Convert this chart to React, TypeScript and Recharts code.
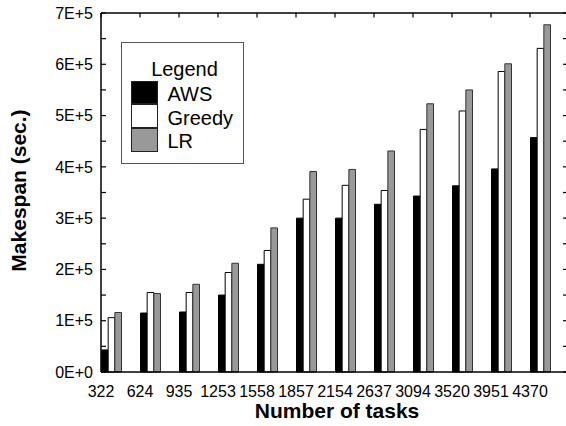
import { Bar, BarChart, Legend, ReferenceLine, XAxis, YAxis } from 'recharts';

const CATEGORIES = ['322', '624', '935', '1253', '1558', '1857', '2154', '2637', '3094', '3520', '3951', '4370'];
const AWS = [43000, 115000, 117000, 150000, 210000, 300000, 300000, 327000, 343000, 363000, 396000, 457000];
const GREEDY = [106000, 155000, 155000, 194000, 237000, 337000, 364000, 354000, 473000, 509000, 586000, 631000];
const LR = [116000, 153000, 171000, 212000, 281000, 391000, 395000, 431000, 523000, 550000, 601000, 677000];
const Y_TICKS = [0, 50000, 100000, 150000, 200000, 250000, 300000, 350000, 400000, 450000, 500000, 550000, 600000, 650000, 700000];
const Y_TICK_LABELS = ['0E+0', '', '1E+5', '', '2E+5', '', '3E+5', '', '4E+5', '', '5E+5', '', '6E+5', '', '7E+5'];

const FONT = '"Liberation Sans", Arial, Helvetica, sans-serif';
const W = 568;
const H = 426;
const PLOT_LEFT = 101;
const PLOT_TOP = 13;
const PLOT_BOTTOM = 372;
const PLOT_RIGHT = W - 1;
const BAR_W = 20 / 3;
const GROUP_HALF = (3 * BAR_W) / 2;

const rows = CATEGORIES.map((tasks, i) => ({ tasks, AWS: AWS[i], Greedy: GREEDY[i], LR: LR[i] }));

function YTick(props: any) {
  const { x, y, payload } = props;
  const label = Y_TICK_LABELS[Y_TICKS.indexOf(payload.value)];
  return (
    <g>
      <line x1={PLOT_LEFT} x2={PLOT_LEFT + 5} y1={y} y2={y} stroke="#000" strokeWidth={1.2} />
      <line x1={PLOT_RIGHT - 4} x2={PLOT_RIGHT} y1={y} y2={y} stroke="#000" strokeWidth={1.2} />
      {label ? (
        <text x={x} y={y + 5.7} textAnchor="end" fontSize={16} fill="#000" fontFamily={FONT}>
          {label}
        </text>
      ) : null}
    </g>
  );
}

function XTick(props: any) {
  const { x, payload } = props;
  const cx = x - GROUP_HALF;
  return (
    <g>
      <line x1={cx} x2={cx} y1={PLOT_TOP} y2={PLOT_TOP + 4.5} stroke="#000" strokeWidth={1.2} />
      <text x={cx} y={PLOT_BOTTOM + 25} textAnchor="middle" fontSize={16} fill="#000" fontFamily={FONT}>
        {payload.value}
      </text>
    </g>
  );
}

function XTitle(props: any) {
  const vb = props.viewBox ?? { x: PLOT_LEFT, width: PLOT_RIGHT - PLOT_LEFT };
  return (
    <text
      x={vb.x + vb.width / 2 + 3}
      y={418}
      textAnchor="middle"
      fontSize={21}
      fontWeight="bold"
      fill="#000"
      fontFamily={FONT}
    >
      Number of tasks
    </text>
  );
}

function YTitle(props: any) {
  const vb = props.viewBox ?? { y: PLOT_TOP, height: PLOT_BOTTOM - PLOT_TOP };
  const cx = 18;
  const cy = vb.y + vb.height / 2 - 2;
  return (
    <text
      transform={`translate(${cx},${cy}) rotate(-90)`}
      x={0}
      y={7.5}
      textAnchor="middle"
      fontSize={21}
      fontWeight="bold"
      fill="#000"
      fontFamily={FONT}
    >
      Makespan (sec.)
    </text>
  );
}

function LegendBox(props: any) {
  const items = props.payload ?? [];
  return (
    <div
      style={{
        position: 'relative',
        boxSizing: 'border-box',
        width: 123,
        height: 122,
        border: '1.5px solid #555',
        background: '#fff',
        fontFamily: FONT,
        fontSize: 20,
        lineHeight: '20px',
        color: '#000',
      }}
    >
      <div style={{ position: 'absolute', left: 0, right: 0, top: 16, textAlign: 'center', paddingLeft: 4 }}>Legend</div>
      {items.map((it: any, i: number) => (
        <div key={it.value}>
          <div
            style={{
              position: 'absolute',
              left: 9,
              top: 37.5 + i * 23.7,
              width: 27,
              height: 23.7,
              boxSizing: 'border-box',
              background: it.color,
              border: '1.5px solid #222',
            }}
          />
          <div style={{ position: 'absolute', left: 45.5, top: 41 + i * 23.7 }}>{it.value}</div>
        </div>
      ))}
    </div>
  );
}

export default function App() {
  return (
    <div style={{ position: 'absolute', left: 0, top: 0, width: 566, height: 426, overflow: 'hidden', background: '#fff' }}>
      <BarChart
        width={W}
        height={H}
        data={rows}
        margin={{ top: PLOT_TOP, right: 1, bottom: 0, left: 0 }}
        barGap={0}
        barSize={BAR_W}
      >
        <XAxis
          dataKey="tasks"
          height={H - PLOT_BOTTOM}
          padding={{ left: -9.5, right: 7.5 }}
          interval={0}
          tickSize={0}
          tickLine={false}
          axisLine={{ stroke: '#000', strokeWidth: 1.5 }}
          tick={<XTick />}
          label={<XTitle />}
        />
        <YAxis
          width={PLOT_LEFT}
          domain={[0, 700000]}
          ticks={Y_TICKS}
          interval={0}
          tickSize={0}
          tickMargin={8}
          tickLine={false}
          axisLine={{ stroke: '#000', strokeWidth: 1.5 }}
          tick={<YTick />}
          label={<YTitle />}
        />
        <ReferenceLine y={700000} stroke="#000" strokeWidth={1.5} />
        <Legend
          layout="vertical"
          align="center"
          verticalAlign="middle"
          wrapperStyle={{ left: 121, top: 42, width: 123, height: 122 }}
          content={<LegendBox />}
        />
        <Bar dataKey="AWS" name="AWS" fill="#000" stroke="#000" strokeWidth={1} isAnimationActive={false} />
        <Bar dataKey="Greedy" name="Greedy" fill="#fff" stroke="#000" strokeWidth={1} isAnimationActive={false} />
        <Bar dataKey="LR" name="LR" fill="#999" stroke="#333" strokeWidth={1} isAnimationActive={false} />
      </BarChart>
    </div>
  );
}
